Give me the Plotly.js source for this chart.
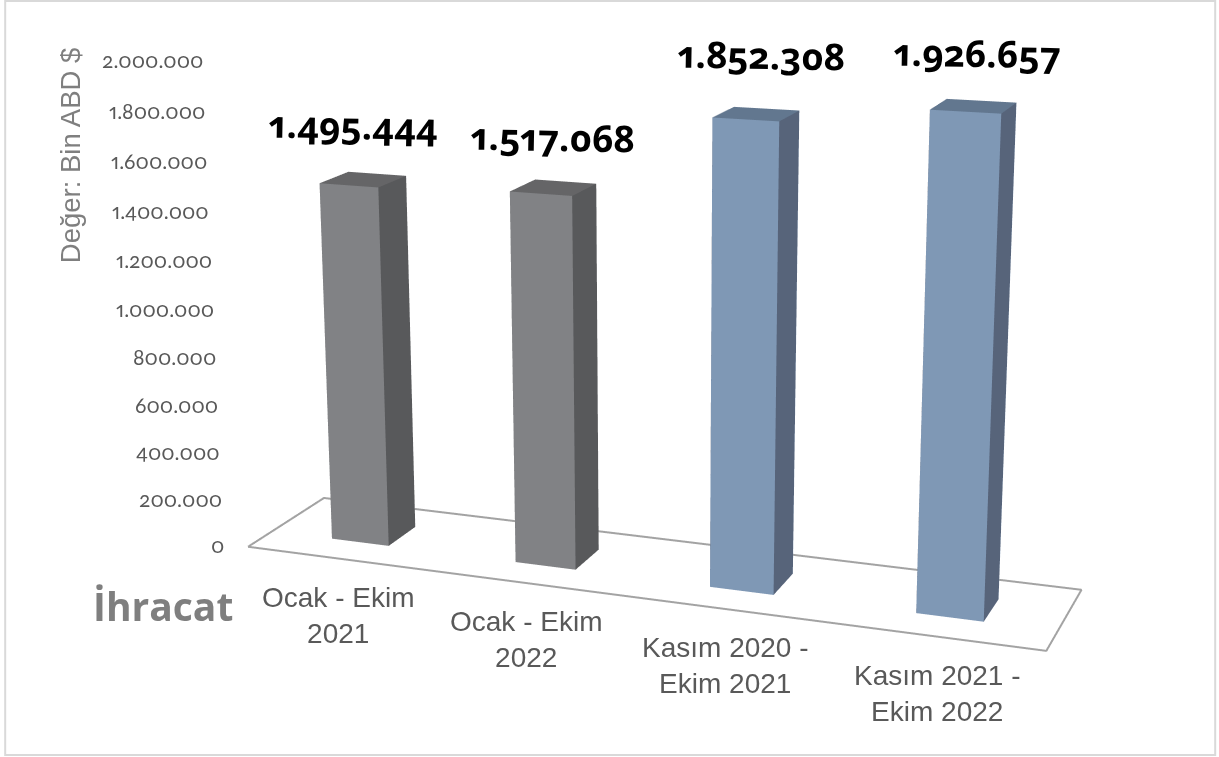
<!DOCTYPE html>
<html><head><meta charset="utf-8"><script src="https://cdn.plot.ly/plotly-3.0.1.min.js"></script>
<style>html,body{margin:0;padding:0;background:#fff;overflow:hidden;width:1219px;height:757px}#c{position:absolute}
.annotation-text{font-feature-settings:"onum" 1,"pnum" 1}</style></head><body><div id="c"></div>
<script>
const categories=["Ocak - Ekim<br>2021","Ocak - Ekim<br>2022","Kasım 2020 -<br>Ekim 2021","Kasım 2021 -<br>Ekim 2022"];
const values=[1495444,1517068,1852308,1926657];
const valueLabels=["1.495.444","1.517.068","1.852.308","1.926.657"];
const tickValues=[0,200000,400000,600000,800000,1000000,1200000,1400000,1600000,1800000,2000000];
const tickLabels=["0","200.000","400.000","600.000","800.000","1.000.000","1.200.000","1.400.000","1.600.000","1.800.000","2.000.000"];
const barColors=[['#818285','#58595b','#656567'],['#818285','#58595b','#656567'],['#7f98b5','#57647a','#62778f'],['#7f98b5','#57647a','#62778f']];
const labelShiftX=[-10,0,5,4], labelShiftY=[55,51,59,54];

const W=1219,H=757;
const eye={x:1.6267,y:-4.4629,z:1.2187},center={x:-0.0087,y:-0.2736,z:0.0405},up={x:0.0335,y:-0.0687,z:1};
const ax=1.6450,ay=0.3383,xLo=-0.4942,xHi=3.4954,w=0.1574,y0=0.3090,y1=0.6858;
const H2=2088,W2=1246,L=-25.2,Top=-706.0;
// the scene ranges carry a little padding around the floor so its outline is not clipped at the boundary
const padX=0.08,padY=0.02,padZ=40000;
const arX=ax*(1+2*padX/(xHi-xLo)),arY=ay*(1+2*padY),arZ=1+2*padZ/2e6;
const el=document.getElementById('c');el.style.left=L+'px';el.style.top=Top+'px';el.style.width=W2+'px';el.style.height=H2+'px';
const traces=[];
values.forEach((v,i)=>{const a=i-w,b=i+w,col=barColors[i];
 const xs=[a,b,b,a,a,b,b,a],ys=[y0,y0,y1,y1,y0,y0,y1,y1],zs=[0,0,0,0,v,v,v,v];
 traces.push({type:'mesh3d',x:xs,y:ys,z:zs,i:[0,0,1,1,4,4,3,3,0,0,2,2],j:[1,5,2,6,5,6,2,6,3,7,3,7],k:[5,4,6,5,6,7,6,7,7,4,7,6],
 facecolor:[col[0],col[0],col[1],col[1],col[2],col[2],col[0],col[0],col[1],col[1],col[0],col[0]],flatshading:true,
 lighting:{ambient:1,diffuse:0,specular:0,fresnel:0,roughness:1},hoverinfo:'skip',showscale:false});});
traces.push({type:'scatter3d',mode:'lines',x:[xLo,xLo,xHi,xHi,xLo],y:[0,1,1,0,0],z:[0,0,0,0,0],line:{color:'#a3a3a3',width:4},hoverinfo:'skip',showlegend:false});
const ax0={visible:false,showgrid:false,zeroline:false,showspikes:false};
const ann=[];
tickValues.forEach((z,i)=>{ann.push({x:xLo,y:0,z:z,text:tickLabels[i],showarrow:false,xanchor:'right',xshift:-22,yshift:2,font:{family:'Lato',size:21,color:'#595959'}});});
values.forEach((v,i)=>{ann.push({x:i,y:(y0+y1)/2,z:v,text:valueLabels[i],showarrow:false,xshift:labelShiftX[i],yshift:labelShiftY[i],font:{family:'Open Sans',size:37,color:'#000',weight:700},textangle:1});});
categories.forEach((c,i)=>{ann.push({x:i,y:0,z:0,text:c,showarrow:false,xshift:1,yshift:-57,font:{family:'Liberation Sans',size:28,color:'#595959'}});});
const px=a=>(a-L)/W2,py=b=>1-(b-Top)/H2;
Plotly.newPlot('c',traces,{width:W2,height:H2,margin:{l:0,r:0,t:0,b:0},showlegend:false,paper_bgcolor:'#fff',
 scene:{domain:{x:[0,1],y:[0,1]},aspectmode:'manual',aspectratio:{x:arX,y:arY,z:arZ},camera:{projection:{type:'perspective'},eye:eye,center:center,up:up},
 xaxis:{...ax0,range:[xLo-padX,xHi+padX]},yaxis:{...ax0,range:[-padY,1+padY]},zaxis:{...ax0,range:[-padZ,2e6+padZ]},annotations:ann},
 shapes:[{type:'rect',xref:'paper',yref:'paper',x0:px(5),x1:px(1215),y0:py(755),y1:py(1),line:{color:'#d9d9d9',width:2}}],
 annotations:[{xref:'paper',yref:'paper',x:px(162.5),y:py(605),xanchor:'center',yanchor:'middle',text:'İhracat',showarrow:false,font:{family:'Open Sans',size:39,color:'#7f7f7f',weight:700}},
 {xref:'paper',yref:'paper',x:px(70),y:py(155),xanchor:'center',yanchor:'middle',text:'Değer: Bin ABD $',textangle:-90,showarrow:false,font:{family:'Liberation Sans',size:27.5,color:'#7f7f7f'}}]
},{displayModeBar:false});
</script></body></html>
